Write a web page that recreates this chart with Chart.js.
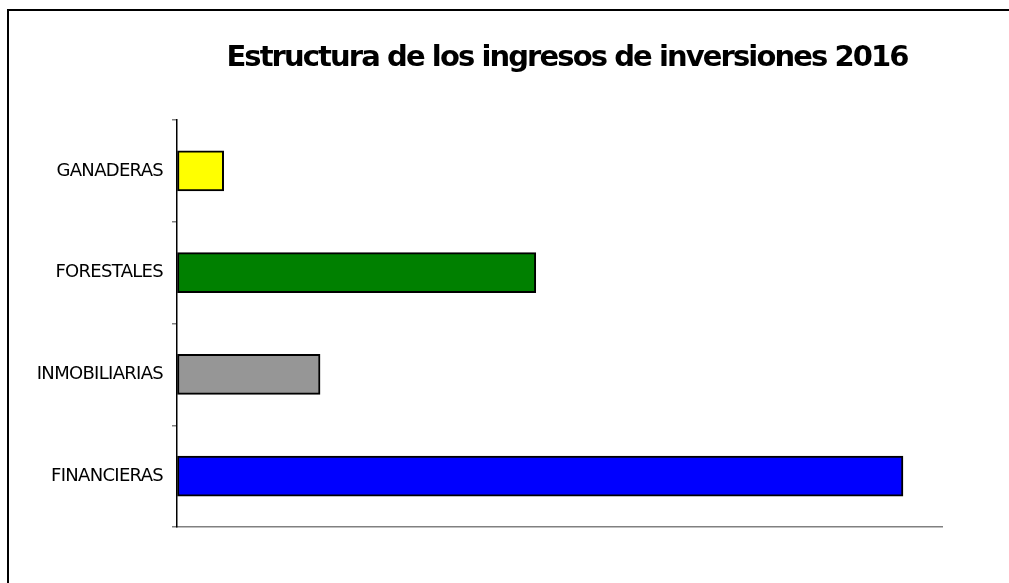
<!DOCTYPE html>
<html>
<head>
<meta charset="utf-8">
<script src="https://cdn.jsdelivr.net/npm/chart.js@4"></script>
<style>
  html, body { margin: 0; padding: 0; background: #fff; }
  #frame { position: absolute; left: 7px; top: 9px; width: 1100px; height: 700px;
           border-top: 2px solid #000; border-left: 2px solid #000; }
  #wrap { position: absolute; left: 0; top: 0; width: 1009px; height: 583px; }
</style>
</head>
<body>
<div id="frame"></div>
<div id="wrap"><canvas id="c" width="1009" height="583"></canvas></div>
<script>
const titleText = 'Estructura de los ingresos de inversiones 2016';
const categories = ['GANADERAS', 'FORESTALES', 'INMOBILIARIAS', 'FINANCIERAS'];
const values = [6.1, 46.9, 18.7, 94.9];
const barColors = ['#FFFF00', '#008000', '#969696', '#0000FF'];
const axisMax = 100;

const spacingPlugin = {
  id: 'spacing',
  beforeDraw(chart) { chart.ctx.letterSpacing = '-0.7px'; },
  afterDraw(chart) {
    const ctx = chart.ctx;
    ctx.save();
    ctx.letterSpacing = '-1.9px';
    ctx.font = 'bold 29px "DejaVu Sans", sans-serif';
    ctx.fillStyle = '#000';
    ctx.textAlign = 'center';
    ctx.textBaseline = 'alphabetic';
    ctx.fillText(titleText, 567, 66);
    ctx.restore();
  }
};

new Chart(document.getElementById('c'), {
  type: 'bar',
  data: {
    labels: categories,
    datasets: [{
      data: values,
      backgroundColor: barColors,
      borderColor: '#000',
      borderWidth: 2,
      borderSkipped: false,
      barThickness: 40
    }]
  },
  options: {
    indexAxis: 'y',
    responsive: false,
    animation: false,
    events: [],
    layout: { padding: { left: 0, right: 67, top: 120, bottom: 56 } },
    plugins: { legend: { display: false }, title: { display: false }, tooltip: { enabled: false } },
    scales: {
      x: {
        min: 0, max: axisMax,
        ticks: { display: false },
        grid: { display: true, drawOnChartArea: false, drawTicks: false },
        border: { display: true, color: '#808080', width: 1.5 },
        afterFit(s) { s.height = 0; }
      },
      y: {
        ticks: { color: '#000', padding: 9, font: { family: '"DejaVu Sans", sans-serif', size: 18 } },
        grid: { offset: true, drawOnChartArea: false, drawTicks: true, tickLength: 5, color: '#808080', lineWidth: 1.5 },
        border: { display: true, color: '#000', width: 1.5 },
        afterFit(s) { s.width = 177; }
      }
    }
  },
  plugins: [spacingPlugin]
});
</script>
</body>
</html>
